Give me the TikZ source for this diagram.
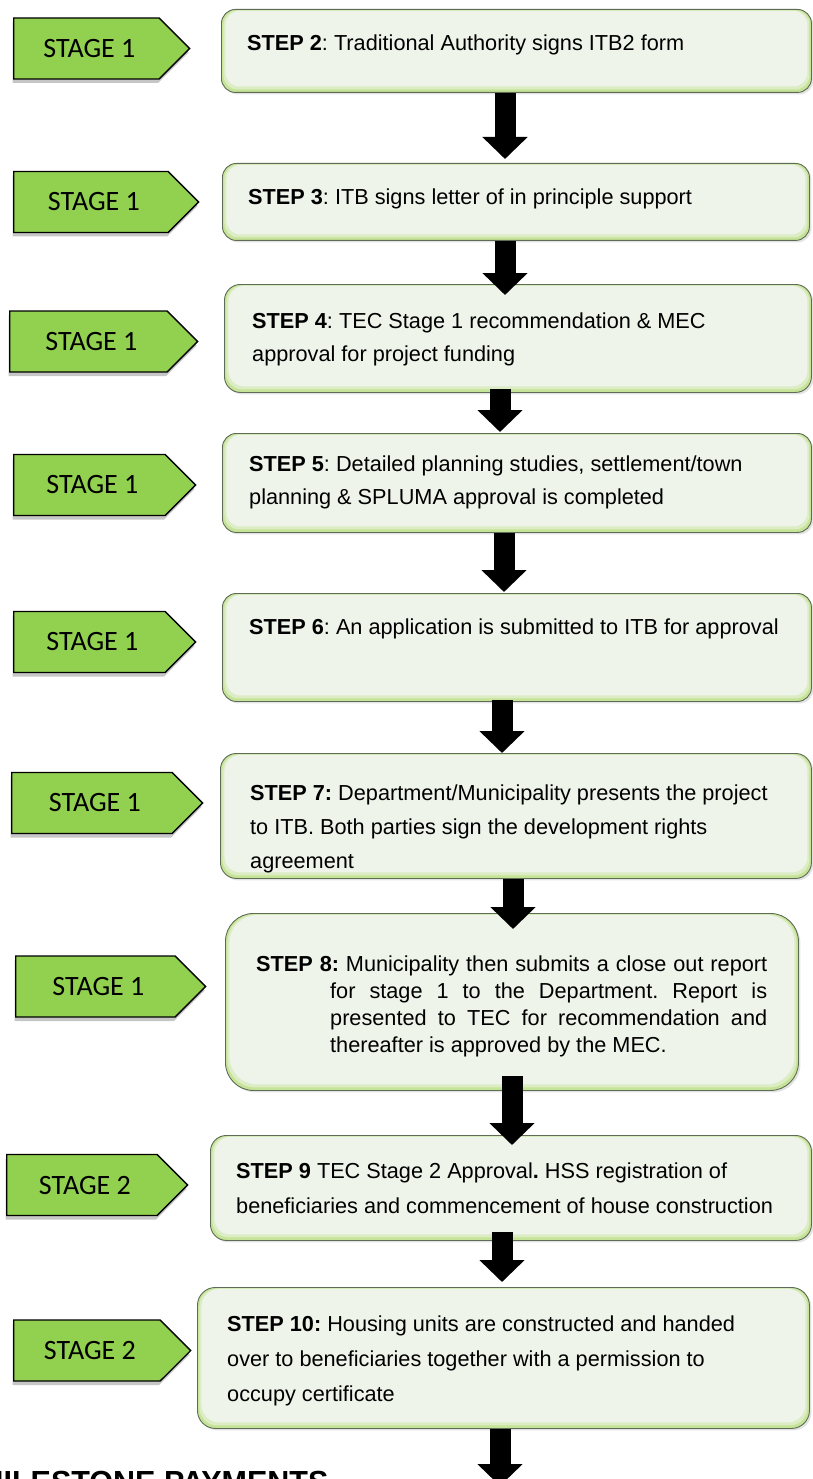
\documentclass[tikz,border=0pt]{standalone}
\usepackage{fontspec}
\setmainfont{Liberation Sans}
\newfontfamily\stagefont{Carlito}
\usetikzlibrary{arrows.meta,shapes.symbols,shadows}

\definecolor{stagegreen}{HTML}{92D050}
\definecolor{boxedge}{HTML}{C6E497}
\definecolor{boxmid}{HTML}{DCECC4}
\definecolor{boxin}{HTML}{EFF4EA}
\definecolor{boxline}{HTML}{5E6B56}

\tikzset{
  stagebox/.style={shape=signal, signal to=east, signal pointer angle=90,
    draw=black, line width=1.3pt, fill=stagegreen, minimum width=176pt,
    minimum height=61pt, inner sep=0pt, anchor=west,
    font=\stagefont\fontsize{28}{30}\selectfont,
    drop shadow={shadow xshift=-1pt, shadow yshift=-4pt, opacity=0.45}},
  stepbox/.style={draw=boxline, line width=0.9pt, fill=boxedge,
    rounded corners=#1, inner sep=0pt, anchor=north west,
    drop shadow={shadow xshift=2pt, shadow yshift=-2pt, opacity=0.22},
    path picture={
      \fill[boxmid, rounded corners=#1] ([shift={(2pt,-1pt)}]path picture bounding box.north west)
        rectangle ([shift={(-2pt,3pt)}]path picture bounding box.south east);
      \fill[boxin, rounded corners=#1] ([shift={(4pt,-1.5pt)}]path picture bounding box.north west)
        rectangle ([shift={(-4pt,6pt)}]path picture bounding box.south east);
    }},
  stepbox/.default=14pt,
  steptext/.style={anchor=base west, inner sep=0pt, align=left,
    font=\frenchspacing\fontsize{21.7}{34}\selectfont},
  blockarrow/.style={line width=21pt, draw=black,
    -{Triangle[width=44pt,length=22pt]}},
}

\begin{document}
\begin{tikzpicture}[x=1pt,y=-1pt]
\useasboundingbox (0,0) rectangle (813,1479);

% step boxes
\node[stepbox, minimum width=590pt, minimum height=83pt] (b2) at (221,9) {};
\node[stepbox, minimum width=587pt, minimum height=77pt] (b3) at (222,163) {};
\node[stepbox=16pt, minimum width=587pt, minimum height=108pt] (b4) at (224,284) {};
\node[stepbox, minimum width=589pt, minimum height=99pt] (b5) at (222,433) {};
\node[stepbox, minimum width=589pt, minimum height=108pt] (b6) at (222,593) {};
\node[stepbox=16pt, minimum width=591pt, minimum height=125pt] (b7) at (220,753) {};
\node[stepbox=28pt, minimum width=573pt, minimum height=177pt] (b8) at (225,913) {};
\node[stepbox=16pt, minimum width=601pt, minimum height=105pt] (b9) at (210,1135) {};
\node[stepbox=18pt, minimum width=612pt, minimum height=141pt] (b10) at (197,1287) {};

% stage tags
\node[stagebox] (s2) at (13,48.5) {\hspace*{6pt}STAGE 1};
\node[stagebox, minimum width=185pt] (s3) at (13,202) {\hspace*{6pt}STAGE 1};
\node[stagebox, minimum width=188pt] (s4) at (9,341.5) {\hspace*{6pt}STAGE 1};
\node[stagebox, minimum width=182pt] (s5) at (13,485) {\hspace*{6pt}STAGE 1};
\node[stagebox, minimum width=182pt] (s6) at (13,642) {\hspace*{6pt}STAGE 1};
\node[stagebox, minimum width=191pt] (s7) at (11,803) {\hspace*{6pt}STAGE 1};
\node[stagebox, minimum width=190pt] (s8) at (15,986.5) {\hspace*{6pt}STAGE 1};
\node[stagebox, minimum width=181pt] (s9) at (6,1185) {\hspace*{6pt}STAGE 2};
\node[stagebox, minimum width=177pt] (s10) at (13,1350.5) {\hspace*{6pt}STAGE 2};

% texts (base anchor = baseline of the last line)
\node[steptext] (t2) at (247,51) {\textbf{STEP 2}: Traditional Authority signs ITB2 form};
\node[steptext] (t3) at (248,205) {\textbf{STEP 3}: ITB signs letter of in principle support};
\node[steptext, font=\frenchspacing\fontsize{21.7}{33}\selectfont] (t4) at (252,361) {\textbf{STEP 4}: TEC Stage 1 recommendation \& MEC\\approval for project funding};
\node[steptext, font=\frenchspacing\fontsize{21.7}{33}\selectfont] (t5) at (249,504) {\textbf{STEP 5}: Detailed planning studies, settlement/town\\planning \& SPLUMA approval is completed};
\node[steptext] (t6) at (249,634) {\textbf{STEP 6}: An application is submitted to ITB for approval};
\node[steptext] (t7) at (250,868) {\textbf{STEP 7:} Department/Municipality presents the project\\to ITB. Both parties sign the development rights\\agreement};
\node[steptext, text width=511pt, align=justify, font=\frenchspacing\fontsize{21.7}{27}\selectfont] (t8) at (256,971)
  {{\parfillskip=0pt \textbf{STEP 8:} Municipality then submits a close out report\par}
   \leftskip=74pt for stage 1 to the Department. Report is\linebreak presented to TEC for recommendation and\linebreak
   thereafter is approved by the MEC.\par};
\node[steptext, font=\frenchspacing\fontsize{21.7}{35}\selectfont] (t9) at (236,1213) {\textbf{STEP 9} TEC Stage 2 Approval\textbf{.} HSS registration of\\beneficiaries and commencement of house construction};
\node[steptext, font=\frenchspacing\fontsize{21.7}{35}\selectfont] (t10) at (227,1401) {\textbf{STEP 10:} Housing units are constructed and handed\\over to beneficiaries together with a permission to\\occupy certificate};

\node[anchor=base west, inner sep=0pt, font=\bfseries\fontsize{30.5}{32}\selectfont] (ms) at (-22,1492) {MILESTONE PAYMENTS};

% arrow columns
\coordinate (xa) at (505,0);
\coordinate (xb) at (500,0);
\coordinate (xc) at (504,0);
\coordinate (xd) at (502,0);
\coordinate (xe) at (513,0);
\coordinate (xf) at (512,0);
\coordinate (endpt) at (500,1486);

\draw[blockarrow, shorten >=4pt] (b2.south -| xa) -- (b3.north -| xa);
\draw[blockarrow, shorten >=-11pt] (b3.south -| xa) -- (b4.north -| xa);
\draw[blockarrow, shorten <=-4pt, shorten >=1pt] (b4.south -| xb) -- (b5.north -| xb);
\draw[blockarrow, shorten >=1pt] (b5.south -| xc) -- (b6.north -| xc);
\draw[blockarrow, shorten <=-2pt] (b6.south -| xd) -- (b7.north -| xd);
\draw[blockarrow, shorten >=-16pt] (b7.south -| xe) -- (b8.north -| xe);
\draw[blockarrow, shorten <=-15pt, shorten >=-10pt] (b8.south -| xf) -- (b9.north -| xf);
\draw[blockarrow, shorten <=-9pt, shorten >=5pt] (b9.south -| xd) -- (b10.north -| xd);
\draw[blockarrow] (b10.south -| xb) -- (endpt);
\end{tikzpicture}
\end{document}
